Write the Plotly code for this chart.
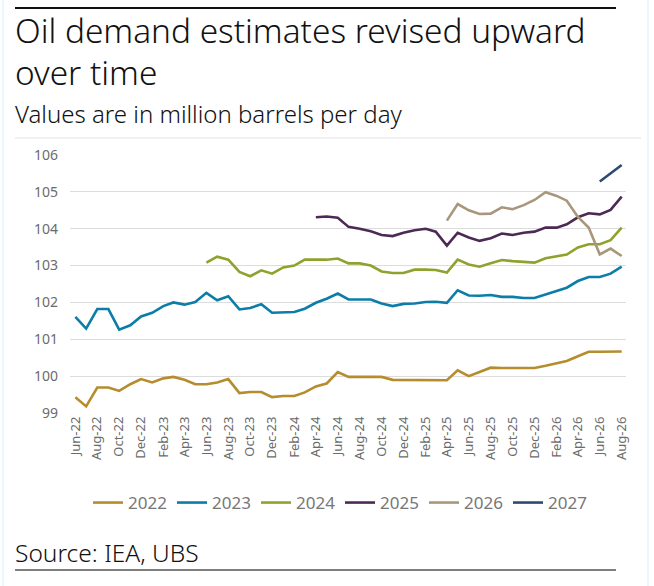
import pandas as pd
import plotly.graph_objects as go

# Data (million barrels per day), monthly estimates
months = pd.date_range("2022-06-01", "2026-08-01", freq="MS")

series_names = ["2022", "2023", "2024", "2025", "2026", "2027"]
series_colors = ["#B58C2E", "#0B7DA8", "#8FA22D", "#4D2A55", "#A9977B", "#2F4A6F"]
series_start = ["2022-06-01", "2022-06-01", "2023-06-01", "2024-04-01", "2025-04-01", "2026-06-01"]

v2022 = [99.43, 99.18, 99.69, 99.69, 99.60, 99.78, 99.92, 99.83, 99.94, 99.98,
         99.90, 99.78, 99.78, 99.83, 99.92, 99.54, 99.57, 99.57, 99.43, 99.46,
         99.46, 99.56, 99.72, 99.80, 100.11, 99.98, 99.98, 99.98, 99.98, 99.90,
         99.90, 99.90, 99.90, 99.90, 99.89, 100.16, 100.00, 100.11, 100.23, 100.22,
         100.22, 100.22, 100.22, 100.28, 100.34, 100.41, 100.54, 100.66, 100.66, 100.66, 100.67]
v2023 = [101.61, 101.29, 101.82, 101.82, 101.26, 101.38, 101.62, 101.72, 101.90, 102.00,
         101.94, 102.01, 102.26, 102.06, 102.17, 101.81, 101.85, 101.95, 101.72, 101.72,
         101.74, 101.83, 101.99, 102.10, 102.24, 102.08, 102.08, 102.08, 101.97, 101.90,
         101.96, 101.97, 102.01, 102.02, 101.99, 102.33, 102.19, 102.18, 102.20, 102.15,
         102.15, 102.12, 102.12, 102.21, 102.31, 102.40, 102.58, 102.69, 102.69, 102.78, 102.97]
v2024 = [103.08, 103.24, 103.16, 102.83, 102.71, 102.87, 102.78, 102.95,
         103.00, 103.16, 103.16, 103.16, 103.19, 103.06, 103.06, 103.00, 102.84, 102.80,
         102.80, 102.89, 102.89, 102.88, 102.81, 103.16, 103.03, 102.97, 103.06, 103.15,
         103.12, 103.10, 103.08, 103.20, 103.26, 103.30, 103.49, 103.58, 103.58, 103.69, 104.03]
v2025 = [104.31, 104.33, 104.30, 104.05, 104.00, 103.93, 103.83, 103.80,
         103.89, 103.96, 104.00, 103.92, 103.54, 103.89, 103.76, 103.67, 103.74, 103.87,
         103.83, 103.89, 103.92, 104.03, 104.03, 104.12, 104.31, 104.42, 104.39, 104.51, 104.87]
v2026 = [104.22, 104.67, 104.50, 104.40, 104.41, 104.58, 104.53, 104.64, 104.78,
         104.99, 104.89, 104.76, 104.32, 104.03, 103.30, 103.46, 103.26]
v2027 = [105.28, 105.50, 105.73]

series_values = [v2022, v2023, v2024, v2025, v2026, v2027]

# body margin is removed below, so figure pixels == screen pixels
W, H = 654, 586
L, R, T, B = 70, 28, 155, 173


def sx(x):
    # pixel x -> paper fraction
    return (x - L) / (W - L - R)


def sy(y):
    # pixel y -> paper fraction
    return (H - B - y) / (H - T - B)


fig = go.Figure()
for name, color, start, vals in zip(series_names, series_colors, series_start, series_values):
    x = pd.date_range(start, periods=len(vals), freq="MS")
    fig.add_trace(go.Scatter(x=x, y=vals, mode="lines", name=name,
                             line=dict(color=color, width=2.6)))

font = "Noto Sans"
tick_grey = "#6B6B6B"

fig.update_layout(
    width=W, height=H,
    margin=dict(l=L, r=R, t=T, b=B),
    paper_bgcolor="white", plot_bgcolor="white",
    font=dict(family=font, color=tick_grey),
    showlegend=True,
    legend=dict(orientation="h", x=sx(88), y=sy(503), xanchor="left", yanchor="middle",
                font=dict(family="Liberation Sans Narrow, Noto Sans, sans-serif", size=17,
                          color="#777777"),
                entrywidth=39, entrywidthmode="pixels", itemwidth=30, tracegroupgap=0),
)

fig.update_xaxes(
    range=["2022-05-17", "2026-08-13"],
    tickvals=months[::2], tickformat="%b-%y", tickangle=-90,
    tickfont=dict(size=13, color=tick_grey),
    showgrid=False, showline=False, ticks="", zeroline=False,
)
fig.update_yaxes(
    range=[99, 106], dtick=1,
    tickfont=dict(size=14, color=tick_grey),
    showgrid=True, gridcolor="#DCDCDC", gridwidth=1,
    zeroline=False, showline=False, ticks="", ticklabelstandoff=11,
)

# Titles
title_font = dict(family=font, size=33.4, color="#111111", weight=300)
fig.add_annotation(text="Oil demand estimates revised upward", xref="paper", yref="paper",
                   x=sx(13), y=sy(30), xanchor="left", yanchor="middle", showarrow=False,
                   font=title_font)
fig.add_annotation(text="over time", xref="paper", yref="paper",
                   x=sx(13), y=sy(72), xanchor="left", yanchor="middle", showarrow=False,
                   font=title_font)
fig.add_annotation(text="Values are in million barrels per day", xref="paper", yref="paper",
                   x=sx(13), y=sy(114), xanchor="left", yanchor="middle", showarrow=False,
                   font=dict(family=font, size=24, color="#111111", weight=300))
fig.add_annotation(text="Source: IEA, UBS", xref="paper", yref="paper",
                   x=sx(13), y=sy(552), xanchor="left", yanchor="middle", showarrow=False,
                   font=dict(family=font, size=24.5, color="#111111", weight=300))

# Rules
fig.add_shape(type="line", xref="paper", yref="paper", x0=sx(15), x1=sx(616),
              y0=sy(8), y1=sy(8), line=dict(color="#111111", width=2.2), layer="above")
fig.add_shape(type="line", xref="paper", yref="paper", x0=sx(15), x1=sx(641),
              y0=sy(138), y1=sy(138), line=dict(color="#E2E2E2", width=1))
fig.add_shape(type="line", xref="paper", yref="paper", x0=sx(15), x1=sx(616),
              y0=sy(570), y1=sy(570), line=dict(color="#555555", width=1.5))
for xe in (3, 648):
    fig.add_shape(type="line", xref="paper", yref="paper", x0=sx(xe), x1=sx(xe),
                  y0=sy(0), y1=sy(586), line=dict(color="#E8F8FC", width=2))

fig.write_html("out.html", config={"displayModeBar": False},
               post_script="document.body.style.margin = '0';")
